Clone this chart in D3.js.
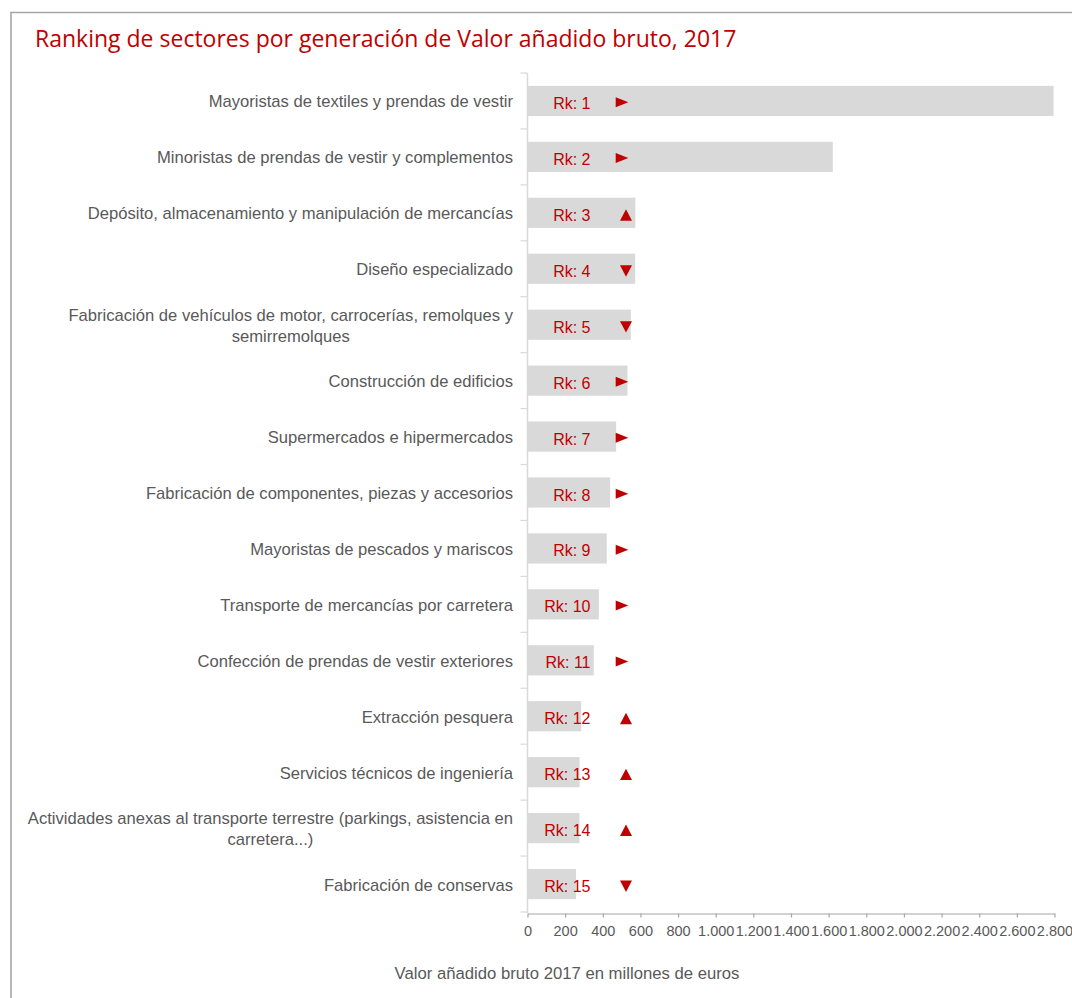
<!DOCTYPE html>
<html>
<head>
<meta charset="utf-8">
<script src="https://cdn.jsdelivr.net/npm/d3@7"></script>
<style>
  html, body { margin: 0; padding: 0; background: #ffffff; }
  svg { display: block; }
</style>
</head>
<body>
<svg id="chart" width="1072" height="998"></svg>
<script>
// ---- DATA ----
const title = "Ranking de sectores por generación de Valor añadido bruto, 2017";
const axisTitle = "Valor añadido bruto 2017 en millones de euros";
const categories = [
  "Mayoristas de textiles y prendas de vestir",
  "Minoristas de prendas de vestir y complementos",
  "Depósito, almacenamiento y manipulación de mercancías",
  "Diseño especializado",
  "Fabricación de vehículos de motor, carrocerías, remolques y semirremolques",
  "Construcción de edificios",
  "Supermercados e hipermercados",
  "Fabricación de componentes, piezas y accesorios",
  "Mayoristas de pescados y mariscos",
  "Transporte de mercancías por carretera",
  "Confección de prendas de vestir exteriores",
  "Extracción pesquera",
  "Servicios técnicos de ingeniería",
  "Actividades anexas al transporte terrestre (parkings, asistencia en carretera...)",
  "Fabricación de conservas"
];
const values = [2795, 1622, 573, 572, 549, 531, 471, 439, 421, 379, 352, 285, 277, 276, 258];
const ranks = [1, 2, 3, 4, 5, 6, 7, 8, 9, 10, 11, 12, 13, 14, 15];
const trends = ["right", "right", "up", "down", "down", "right", "right", "right", "right", "right", "right", "up", "up", "up", "down"];
const tickValues = [0, 200, 400, 600, 800, 1000, 1200, 1400, 1600, 1800, 2000, 2200, 2400, 2600, 2800];

// ---- LAYOUT ----
const W = 1072, H = 998;
const red = "#c00000", grey = "#595959", barFill = "#d9d9d9";
const svg = d3.select("#chart");
const fontBody = "'Liberation Sans', Arial, sans-serif";
const labelSize = "16.6px";

svg.append("rect").attr("width", W).attr("height", H).attr("fill", "#fff");
// frame
svg.append("path")
  .attr("d", `M11,${H + 2}V12.5H${W + 2}`)
  .attr("fill", "none").attr("stroke", "#a6a6a6").attr("stroke-width", 1.6);

svg.append("text")
  .attr("x", 35).attr("y", 47)
  .attr("fill", red)
  .style("font-family", "'Open Sans', Lato, sans-serif")
  .style("font-size", "23px")
  .text(title);

const x = d3.scaleLinear().domain([0, 2800]).range([527.5, 1054.5]);
const y = d3.scaleBand().domain(categories).range([73, 912]).paddingInner(0.46).paddingOuter(0.23);

const data = categories.map((c, i) => ({ cat: c, value: values[i], rank: ranks[i], trend: trends[i] }));

// bars
svg.append("g").selectAll("rect").data(data).join("rect")
  .attr("x", x(0) + 0.5)
  .attr("y", d => y(d.cat))
  .attr("width", d => x(d.value) - x(0) - 0.5)
  .attr("height", y.bandwidth())
  .attr("fill", barFill);

// left axis (category), ticks between categories
const step = y.step();
const leftAxis = svg.append("g");
leftAxis.append("line")
  .attr("x1", x(0)).attr("x2", x(0))
  .attr("y1", 73).attr("y2", 913)
  .attr("stroke", "#d9d9d9").attr("stroke-width", 1.5);
leftAxis.selectAll("line.tk").data(d3.range(categories.length + 1)).join("line")
  .attr("class", "tk")
  .attr("x1", x(0) - 7).attr("x2", x(0))
  .attr("y1", i => 73 + i * step).attr("y2", i => 73 + i * step)
  .attr("stroke", "#d9d9d9").attr("stroke-width", 1.2);

// category labels (wrapped, centered lines, right-aligned block)
const labelG = svg.append("g")
  .style("font-family", fontBody).style("font-size", labelSize).attr("fill", grey);
const measurer = svg.append("text").style("font-family", fontBody).style("font-size", labelSize);
function wrap(str, maxW) {
  const words = str.split(" ");
  const lines = [];
  let cur = "";
  words.forEach(w => {
    const t = cur ? cur + " " + w : w;
    measurer.text(t);
    if (measurer.node().getComputedTextLength() > maxW && cur) { lines.push(cur); cur = w; }
    else cur = t;
  });
  if (cur) lines.push(cur);
  return lines;
}
const rightEdge = 513;
data.forEach(d => {
  const lines = wrap(d.cat, 500);
  const widths = lines.map(l => { measurer.text(l); return measurer.node().getComputedTextLength(); });
  const maxW = d3.max(widths);
  const cx = rightEdge - maxW / 2;
  const cy = y(d.cat) + y.bandwidth() / 2;
  const lh = 21;
  const t = labelG.append("text").attr("text-anchor", "middle");
  lines.forEach((l, j) => {
    t.append("tspan").attr("x", cx)
      .attr("y", cy + 6.5 + (j - (lines.length - 1) / 2) * lh)
      .text(l);
  });
});
measurer.remove();

// rank labels
svg.append("g").selectAll("text").data(data).join("text")
  .attr("x", x(0) + 63)
  .attr("y", d => y(d.cat) + y.bandwidth() / 2 + 8)
  .attr("text-anchor", "end")
  .attr("fill", red)
  .style("font-family", fontBody).style("font-size", "16px")
  .text(d => "Rk: " + d.rank);

// trend markers
function triPath(dir) {
  if (dir === "right") return "M-6.3,-5L6.3,0L-6.3,5Z";
  if (dir === "up") return "M-6,5.7L0,-5.7L6,5.7Z";
  return "M-6,-5.7L0,5.7L6,-5.7Z";
}
svg.append("g").selectAll("path").data(data).join("path")
  .attr("transform", d => {
    const cy = y(d.cat) + y.bandwidth() / 2;
    return d.trend === "right" ? `translate(${x(0) + 94.5},${cy + 1.2})` : `translate(${x(0) + 98.5},${cy + 2.2})`;
  })
  .attr("d", d => triPath(d.trend))
  .attr("fill", red);

// bottom axis
const fmt = d3.formatLocale({ decimal: ",", thousands: ".", grouping: [3], currency: ["", "€"] }).format(",d");
const bottom = svg.append("g").attr("transform", "translate(0,913.5)")
  .call(d3.axisBottom(x).tickValues(tickValues).tickFormat(fmt).tickSize(4).tickSizeOuter(0).tickPadding(8));
bottom.select(".domain").attr("stroke", "#a6a6a6").attr("stroke-width", 1.2);
bottom.selectAll(".tick line").attr("stroke", "#a6a6a6").attr("stroke-width", 1.2);
bottom.selectAll(".tick text")
  .attr("fill", grey)
  .style("font-family", fontBody).style("font-size", "14.5px");

// axis title
svg.append("text")
  .attr("x", 567).attr("y", 979)
  .attr("text-anchor", "middle")
  .attr("fill", grey)
  .style("font-family", fontBody).style("font-size", "16.7px")
  .text(axisTitle);
</script>
</body>
</html>
